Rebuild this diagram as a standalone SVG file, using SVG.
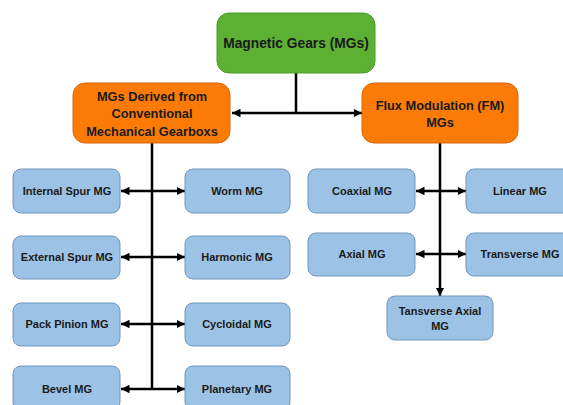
<svg xmlns="http://www.w3.org/2000/svg" width="563" height="405" viewBox="0 0 563 405">
<defs>
<marker id="ah" viewBox="0 0 10 10" refX="10" refY="5" markerWidth="3.4" markerHeight="3.4" orient="auto-start-reverse" markerUnits="strokeWidth">
<path d="M0,0 L10,5 L0,10 z" fill="#000"/>
</marker>
</defs>
<style>
.g{fill:#5cb134;stroke:#4c9a2a;stroke-width:1}
.o{fill:#fb7b06;stroke:#d8690a;stroke-width:1}
.b{fill:#9cc3e6;stroke:#6e97bd;stroke-width:1}
text{font-family:"Liberation Sans",Arial,sans-serif;font-weight:bold;fill:#1a1a1a;text-anchor:middle;dominant-baseline:central}
.t1{font-size:13.8px}
.t2{font-size:12.8px}
.t3{font-size:11px}
.c{stroke:#000;stroke-width:2.5;fill:none}
.a{stroke:#000;stroke-width:2.5;fill:none;marker-end:url(#ah)}
.d{stroke:#000;stroke-width:2.5;fill:none;marker-start:url(#ah);marker-end:url(#ah)}
</style>
<g id="connectors">
<line class="c" x1="296" y1="73" x2="296" y2="113"/>
<line class="d" x1="232" y1="113" x2="362" y2="113"/>
<line class="c" x1="152" y1="143" x2="152" y2="389"/>
<line class="d" x1="121" y1="191" x2="185" y2="191"/>
<line class="d" x1="121" y1="257" x2="185" y2="257"/>
<line class="d" x1="121" y1="324" x2="185" y2="324"/>
<line class="d" x1="121" y1="389" x2="185" y2="389"/>
<line class="a" x1="440" y1="143" x2="440" y2="296"/>
<line class="d" x1="416" y1="191" x2="466" y2="191"/>
<line class="d" x1="416" y1="254" x2="466" y2="254"/>
</g>
<g id="mg"><rect class="g" x="217" y="13" width="158" height="60" rx="12"/><text class="t1" x="296" y="43">Magnetic Gears (MGs)</text></g>
<g id="derived"><rect class="o" x="73" y="83" width="157" height="60" rx="12"/><text class="t2" x="152" y="96">MGs Derived from</text><text class="t2" x="152" y="113">Conventional</text><text class="t2" x="152" y="131">Mechanical Gearboxs</text></g>
<g id="fm"><rect class="o" x="362" y="83" width="156" height="60" rx="12"/><text class="t2" x="440" y="105">Flux Modulation (FM)</text><text class="t2" x="440" y="122">MGs</text></g>
<g id="internal"><rect class="b" x="13" y="169" width="107" height="44" rx="8"/><text class="t3" x="67" y="191">Internal Spur MG</text></g>
<g id="worm"><rect class="b" x="185" y="169" width="105" height="44" rx="8"/><text class="t3" x="237" y="191">Worm MG</text></g>
<g id="external"><rect class="b" x="13" y="236" width="107" height="43" rx="8"/><text class="t3" x="67" y="257">External Spur MG</text></g>
<g id="harmonic"><rect class="b" x="185" y="236" width="105" height="43" rx="8"/><text class="t3" x="237" y="257">Harmonic MG</text></g>
<g id="pack"><rect class="b" x="13" y="303" width="107" height="43" rx="8"/><text class="t3" x="67" y="324">Pack Pinion MG</text></g>
<g id="cycloidal"><rect class="b" x="185" y="303" width="105" height="43" rx="8"/><text class="t3" x="237" y="324">Cycloidal MG</text></g>
<g id="bevel"><rect class="b" x="13" y="366" width="107" height="44" rx="8"/><text class="t3" x="67" y="389">Bevel MG</text></g>
<g id="planetary"><rect class="b" x="185" y="366" width="105" height="44" rx="8"/><text class="t3" x="237" y="389">Planetary MG</text></g>
<g id="coaxial"><rect class="b" x="308" y="169" width="107" height="44" rx="8"/><text class="t3" x="362" y="191">Coaxial MG</text></g>
<g id="linear"><rect class="b" x="466" y="169" width="107" height="44" rx="8"/><text class="t3" x="520" y="191">Linear MG</text></g>
<g id="axial"><rect class="b" x="308" y="233" width="107" height="43" rx="8"/><text class="t3" x="362" y="254">Axial MG</text></g>
<g id="transverse"><rect class="b" x="466" y="233" width="107" height="43" rx="8"/><text class="t3" x="520" y="254">Transverse MG</text></g>
<g id="tansaxial"><rect class="b" x="387" y="296" width="106" height="44" rx="8"/><text class="t3" x="440" y="311">Tansverse Axial</text><text class="t3" x="440" y="326">MG</text></g>
</svg>
